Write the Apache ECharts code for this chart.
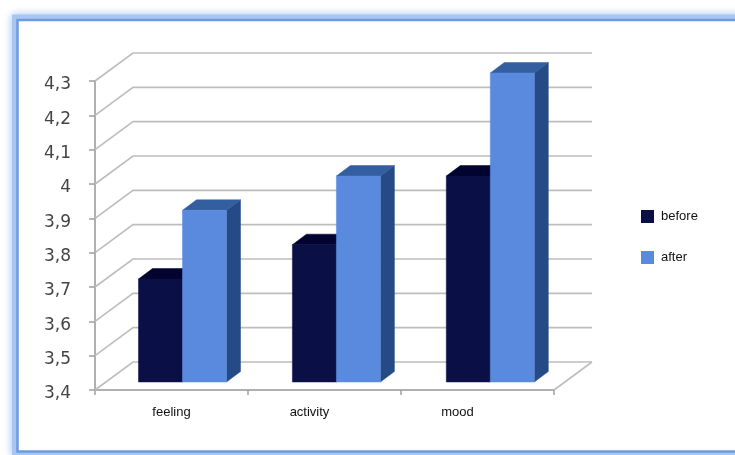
<!DOCTYPE html>
<html><head><meta charset="utf-8">
<style>html,body{margin:0;padding:0;background:#fff;overflow:hidden}#c{width:735px;height:455px;filter:blur(0.6px)}</style>
<script src="https://cdn.jsdelivr.net/npm/echarts@6/dist/echarts.min.js"></script>
</head><body><div id="c"></div>
<script>
const categories = ['feeling', 'activity', 'mood'];
const before = [3.7, 3.8, 4.0];
const after = [3.9, 4.0, 4.3];
const yTicks = [3.4, 3.5, 3.6, 3.7, 3.8, 3.9, 4.0, 4.1, 4.2, 4.3];
const labelShift = {feeling: 0, activity: 30, mood: 40};

const wallDx = 38, wallDy = -28, barShiftX = 11, barDrift = 0.9, barShiftY = -8, depthX = 14, depthY = -10.5;
const chart = echarts.init(document.getElementById('c'), null, {renderer: 'canvas'});

function poly(points, fill, stroke) {
  return {type: 'polygon', shape: {points}, style: {fill, stroke: stroke || fill, lineWidth: 0.5}};
}
function barRender(side, colors) {
  return function (params, api) {
    const idx = api.value(0), val = api.value(1);
    const top = api.coord([idx, val]);
    const bottom = api.coord([idx, yTicks[0]]);
    const band = api.size([1, 0])[0];
    const w = band * 0.2876;
    const x0 = top[0] + barShiftX + idx * barDrift + (side < 0 ? -w : 0);
    const x1 = x0 + w;
    const yt = top[1] + barShiftY, yb = bottom[1] + barShiftY;
    return {type: 'group', children: [
      poly([[x1, yt], [x1 + depthX, yt + depthY], [x1 + depthX, yb + depthY], [x1, yb]], colors.side),
      poly([[x0, yt], [x0 + depthX, yt + depthY], [x1 + depthX, yt + depthY], [x1, yt]], colors.top),
      poly([[x0, yt], [x1, yt], [x1, yb], [x0, yb]], colors.front)
    ]};
  };
}
function gridRender(params, api) {
  const v = api.value(0);
  const p = api.coord([0, v]);
  const cs = params.coordSys;
  const l = cs.x, r = cs.x + cs.width, y = p[1];
  const children = [{type: 'polyline', shape: {points: [[l, y], [l + wallDx, y + wallDy], [r + wallDx, y + wallDy]]},
    style: {fill: null, stroke: '#bdbdbd', lineWidth: 1.6}}];
  if (v === yTicks[0]) children.push({type: 'line', shape: {x1: r, y1: y, x2: r + wallDx, y2: y + wallDy},
    style: {stroke: '#bdbdbd', lineWidth: 1.6}});
  return {type: 'group', children};
}

chart.setOption({
  animation: false,
  backgroundColor: '#fff',
  graphic: [
    {type: 'rect', z: -11, silent: true,
      shape: {x: 15, y: 17.5, width: 800, height: 436},
      style: {fill: '#fff', stroke: '#a9c6f2', lineWidth: 6, shadowBlur: 8, shadowColor: '#a9c6f2'}},
    {type: 'rect', z: -10, silent: true,
      shape: {x: 17.5, y: 20, width: 800, height: 431.5},
      style: {fill: '#fff', stroke: '#6c9be2', lineWidth: 2.5}}
  ],
  grid: {left: 95, right: 181, top: 81, bottom: 65, containLabel: false},
  legend: {orient: 'vertical', left: 636, top: 205, itemWidth: 13, itemHeight: 13, itemGap: 28,
    icon: 'rect', textStyle: {fontFamily: 'Liberation Sans', fontSize: 13, color: '#111', padding: [0, 0, 0, 2]},
    data: [{name: 'before', itemStyle: {color: '#0a1045'}}, {name: 'after', itemStyle: {color: '#5a8ade'}}]},
  xAxis: {type: 'category', data: categories,
    axisLine: {lineStyle: {color: '#b0b0b0', width: 1.8}},
    axisTick: {show: true, length: 5, lineStyle: {color: '#a0a0a0', width: 1.5}},
    axisLabel: {margin: 16, formatter: v => `{${v}|${v}}`,
      rich: Object.fromEntries(categories.map(c => [c, {
        fontFamily: 'Liberation Sans', fontSize: 13, color: '#111', padding: [0, labelShift[c], 0, 0]}]))}},
  yAxis: {type: 'value', min: 3.4, max: 4.3, interval: 0.1,
    splitLine: {show: false},
    axisLine: {show: true, lineStyle: {color: '#a8a8a8', width: 1.8}},
    axisTick: {show: true, length: 6, lineStyle: {color: '#a0a0a0', width: 1.5}},
    axisLabel: {margin: 24,
      formatter: v => '{n|' + String(Math.round(v * 10) / 10).replace('.', ',') + '}',
      rich: {n: {fontFamily: 'DejaVu Sans', fontSize: 17, color: '#444', padding: [8, 0, 0, 0]}}}},
  series: [
    {type: 'custom', name: 'walls', z: 1, silent: true, renderItem: gridRender,
      encode: {y: 0}, data: yTicks.map(v => [v])},
    {type: 'custom', name: 'before', z: 2, renderItem: barRender(-1, {front: '#0a1045', top: '#02032f', side: '#02032f'}),
      itemStyle: {color: '#0a1045'}, encode: {x: 0, y: 1}, data: before.map((v, i) => [i, v])},
    {type: 'custom', name: 'after', z: 3, renderItem: barRender(1, {front: '#5a8ade', top: '#335e9f', side: '#254a85'}),
      itemStyle: {color: '#5a8ade'}, encode: {x: 0, y: 1}, data: after.map((v, i) => [i, v])}
  ]
});
</script></body></html>
